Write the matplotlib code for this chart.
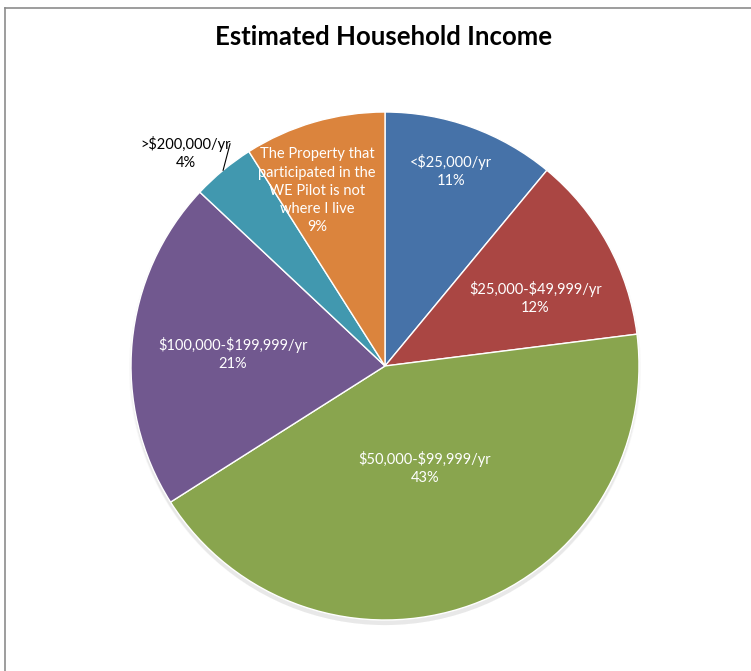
import numpy as np
import matplotlib.pyplot as plt
from matplotlib.patches import Circle
from matplotlib.lines import Line2D

plt.rcParams['font.family'] = ['Lato', 'DejaVu Sans']
plt.rcParams['text.parse_math'] = False

labels = ['<$25,000/yr', '$25,000-$49,999/yr', '$50,000-$99,999/yr',
          '$100,000-$199,999/yr', '>$200,000/yr',
          'The Property that\nparticipated in the\nWE Pilot is not\nwhere I live']
values = [11, 12, 43, 21, 4, 9]
colors = ['#4672A8', '#AA4643', '#89A54E', '#71588F', '#4198AF', '#DB843D']

# label placement: radius (pie units) and angle nudge in degrees
label_r = [0.81, 0.65, 0.43, 0.60, 1.15, 0.74]
label_dt = [1.0, -4.5, 1.5, 1.0, 3.5, 5.0]

fig = plt.figure(figsize=(7.51, 6.71), dpi=100)
fig.patch.set_facecolor('white')

# chart frame
fig.add_artist(Line2D([5 / 751, 1], [1 - 8 / 671, 1 - 8 / 671], color='#8c8c8c', lw=1.2))
fig.add_artist(Line2D([5 / 751, 5 / 751], [0, 1 - 8 / 671], color='#8c8c8c', lw=1.2))

ax = fig.add_axes([0.1068, 0.0003, 0.8117, 0.9085])

# soft shadow under the pie
for i, a in enumerate([0.04, 0.06, 0.08]):
    ax.add_patch(Circle((0, -0.012 - 0.004 * i), 1.0 + 0.004 * (2 - i),
                        color='#7f7f7f', alpha=a, zorder=0, lw=0))

wedges, _ = ax.pie(values, colors=colors, startangle=90, counterclock=False,
                   radius=1.0, wedgeprops=dict(edgecolor='white', linewidth=1.0))
for w in wedges:
    w.set_zorder(2)

ax.set_xlim(-1.2, 1.2)
ax.set_ylim(-1.2, 1.2)
ax.set_aspect('equal')
ax.axis('off')

for i, w in enumerate(wedges):
    mid = np.deg2rad((w.theta1 + w.theta2) / 2 + label_dt[i])
    x, y = label_r[i] * np.cos(mid), label_r[i] * np.sin(mid)
    outside = label_r[i] > 1
    ax.text(x, y, f'{labels[i]}\n{values[i]}%', ha='center', va='center',
            fontsize=10.5, color='black' if outside else 'white',
            linespacing=1.38, zorder=3)
    if outside:
        m0 = np.deg2rad((w.theta1 + w.theta2) / 2)
        ax.plot([np.cos(m0), -0.61], [np.sin(m0), 0.875], color='black', lw=0.8, zorder=3)

fig.text(0.51, 0.945, 'Estimated Household Income', ha='center', va='center',
         fontsize=18.5, fontweight='bold')

fig.savefig('out.png', dpi=100)
